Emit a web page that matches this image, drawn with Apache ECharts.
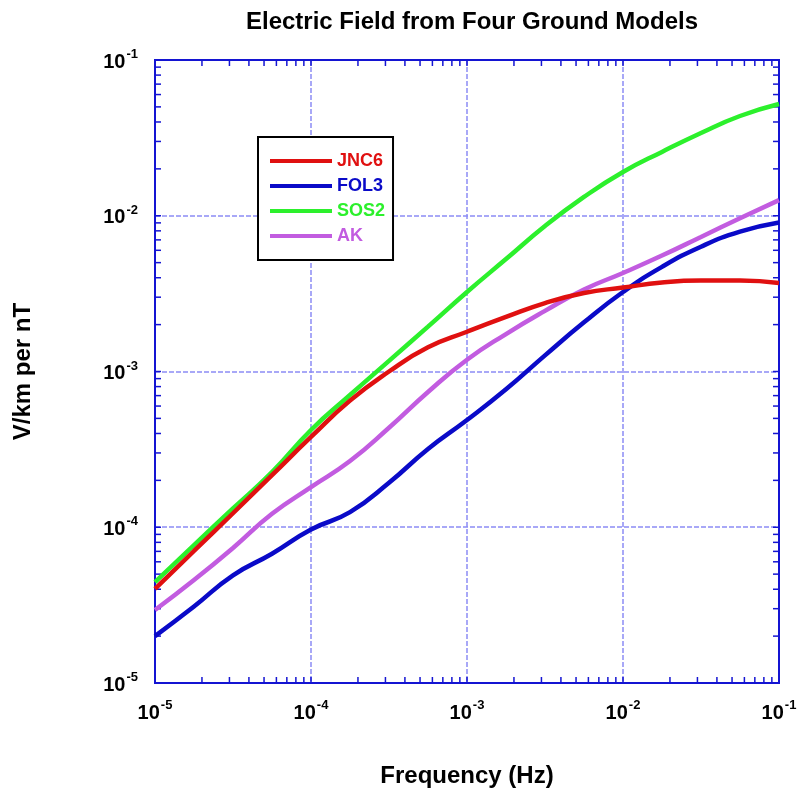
<!DOCTYPE html>
<html>
<head>
<meta charset="utf-8">
<title>Electric Field from Four Ground Models</title>
<script src="https://cdn.jsdelivr.net/npm/echarts@6/dist/echarts.min.js"></script>
<style>
  html, body { margin: 0; padding: 0; background: #fff; }
  #chart { width: 801px; height: 790px; }
</style>
</head>
<body>
<div id="chart"></div>
<script>
// Frequencies (Hz), quarter-decade steps
var freq = [1e-5, 1.778e-5, 3.162e-5, 5.623e-5, 1e-4, 1.778e-4, 3.162e-4, 5.623e-4,
            1e-3, 1.778e-3, 3.162e-3, 5.623e-3, 1e-2, 1.778e-2, 3.162e-2, 5.623e-2, 1e-1];

// Electric field (V/km per nT) for each ground model
var jnc6 = [4.02e-5, 7.04e-5, 1.23e-4, 2.16e-4, 3.80e-4, 6.50e-4, 1.0e-3, 1.43e-3,
            1.80e-3, 2.24e-3, 2.75e-3, 3.19e-3, 3.46e-3, 3.73e-3, 3.84e-3, 3.84e-3, 3.70e-3];
var fol3 = [2.0e-5, 3.10e-5, 4.91e-5, 6.76e-5, 9.67e-5, 1.25e-4, 1.93e-4, 3.18e-4,
            4.88e-4, 7.69e-4, 1.27e-3, 2.07e-3, 3.24e-3, 4.70e-3, 6.33e-3, 7.91e-3, 9.06e-3];
var sos2 = [4.45e-5, 7.69e-5, 1.32e-4, 2.26e-4, 4.21e-4, 7.06e-4, 1.17e-3, 1.94e-3,
            3.24e-3, 5.27e-3, 8.59e-3, 1.32e-2, 1.91e-2, 2.57e-2, 3.40e-2, 4.37e-2, 5.22e-2];
var ak   = [2.94e-5, 4.58e-5, 7.36e-5, 1.22e-4, 1.81e-4, 2.66e-4, 4.35e-4, 7.38e-4,
            1.19e-3, 1.74e-3, 2.45e-3, 3.36e-3, 4.29e-3, 5.55e-3, 7.31e-3, 9.63e-3, 1.26e-2];

var seriesNames = ['JNC6', 'FOL3', 'SOS2', 'AK'];
var seriesColors = ['#e01010', '#0a0ac8', '#2cf02c', '#c25ce0'];
var seriesValues = [jnc6, fol3, sos2, ak];

// Axis range (decades)
var axisMin = 1e-5, axisMax = 1e-1;

// Tick positions: 1..9 times each decade
var tickValues = [];
for (var e = -5; e < -1; e++) {
  for (var m = 1; m <= 9; m++) tickValues.push(m * Math.pow(10, e));
}
tickValues.push(axisMax);

var axisBlue = '#1414d2';
var gridBlue = 'rgb(140,140,245)';
var font = 'Liberation Sans, Arial, sans-serif';

function powLabel(v) {
  var p = Math.round(Math.log10(v));
  return '{b|10}{s|' + p + '}';
}
var labelRich = {
  b: { fontFamily: font, fontWeight: 'bold', fontSize: 20, color: '#000', lineHeight: 24, verticalAlign: 'bottom' },
  s: { fontFamily: font, fontWeight: 'bold', fontSize: 13, color: '#000', lineHeight: 24, verticalAlign: 'top', padding: [0, 0, 10, 1] }
};

var chart = echarts.init(document.getElementById('chart'), null, { renderer: 'canvas' });

var lineSeries = seriesNames.map(function (name, i) {
  return {
    name: name,
    type: 'line',
    data: freq.map(function (f, k) { return [f, seriesValues[i][k]]; }),
    showSymbol: false,
    smooth: 0.5,
    lineStyle: { color: seriesColors[i], width: 4.5 },
    itemStyle: { color: seriesColors[i] },
    z: i === 0 ? 6 : 5
  };
});

// Tick marks pointing inwards on all four sides of the frame
function tickRender(isX) {
  return function (params, api) {
    var v = api.value(isX ? 0 : 1);
    var len = 6;
    var st = { stroke: axisBlue, lineWidth: 1.5 };
    var a, b;
    if (isX) {
      a = api.coord([v, axisMin]);
      b = api.coord([v, axisMax]);
      return { type: 'group', children: [
        { type: 'line', shape: { x1: a[0], y1: a[1], x2: a[0], y2: a[1] - len }, style: st },
        { type: 'line', shape: { x1: b[0], y1: b[1], x2: b[0], y2: b[1] + len }, style: st }
      ]};
    }
    a = api.coord([axisMin, v]);
    b = api.coord([axisMax, v]);
    return { type: 'group', children: [
      { type: 'line', shape: { x1: a[0], y1: a[1], x2: a[0] + len, y2: a[1] }, style: st },
      { type: 'line', shape: { x1: b[0], y1: b[1], x2: b[0] - len, y2: b[1] }, style: st }
    ]};
  };
}

var splitStyle = {
  show: true,
  showMinLine: false,
  showMaxLine: false,
  lineStyle: { color: gridBlue, width: 1.5, type: [5, 2] }
};

// Solid frame edges on the top and right
function frameAxis(position) {
  return {
    type: 'log',
    logBase: 10,
    min: axisMin,
    max: axisMax,
    position: position,
    axisLine: { show: true, onZero: false, lineStyle: { color: axisBlue, width: 2 } },
    axisTick: { show: false },
    axisLabel: { show: false },
    splitLine: { show: false },
    z: 4
  };
}

var option = {
  animation: false,
  backgroundColor: '#fff',
  title: {
    text: 'Electric Field from Four Ground Models',
    left: 467,
    top: 5,
    textAlign: 'center',
    textStyle: { fontFamily: font, fontWeight: 'bold', fontSize: 24, color: '#000' }
  },
  legend: {
    orient: 'vertical',
    left: 258,
    top: 137,
    padding: [14, 8, 14, 12],
    borderColor: '#000',
    borderWidth: 2,
    backgroundColor: '#fff',
    itemWidth: 62,
    itemHeight: 4,
    itemGap: 5,
    itemTextGap: 7,
    icon: 'rect',
    textStyle: { fontFamily: font, fontWeight: 'bold', fontSize: 18, lineHeight: 20 },
    data: seriesNames.map(function (n, i) {
      return { name: n, textStyle: { color: seriesColors[i] } };
    })
  },
  grid: {
    left: 155, right: 22, top: 60, bottom: 107,
    outerBoundsMode: 'none',
    containLabel: false,
    show: true, borderColor: axisBlue, borderWidth: 2, backgroundColor: 'transparent'
  },
  xAxis: [{
    type: 'log',
    logBase: 10,
    min: axisMin,
    max: axisMax,
    position: 'bottom',
    name: 'Frequency (Hz)',
    nameLocation: 'middle',
    nameGap: 81,
    nameTextStyle: { fontFamily: font, fontWeight: 'bold', fontSize: 24, color: '#000' },
    axisLine: { onZero: false, lineStyle: { color: axisBlue, width: 2 } },
    axisTick: { show: false },
    minorTick: { show: false },
    splitLine: splitStyle,
    axisLabel: { margin: 16, formatter: powLabel, rich: labelRich }
  }, frameAxis('top')],
  yAxis: [{
    type: 'log',
    logBase: 10,
    min: axisMin,
    max: axisMax,
    position: 'left',
    name: 'V/km per nT',
    nameLocation: 'middle',
    nameGap: 120,
    nameRotate: 90,
    nameTextStyle: { fontFamily: font, fontWeight: 'bold', fontSize: 24, color: '#000' },
    axisLine: { onZero: false, lineStyle: { color: axisBlue, width: 2 } },
    axisTick: { show: false },
    minorTick: { show: false },
    splitLine: splitStyle,
    axisLabel: { margin: 17, formatter: powLabel, rich: labelRich }
  }, frameAxis('right')],
  series: lineSeries.concat([
    {
      type: 'custom',
      name: 'xticks',
      renderItem: tickRender(true),
      data: tickValues.map(function (v) { return [v, axisMin]; }),
      silent: true, clip: false, z: 3
    },
    {
      type: 'custom',
      name: 'yticks',
      renderItem: tickRender(false),
      data: tickValues.map(function (v) { return [axisMin, v]; }),
      silent: true, clip: false, z: 3
    }
  ])
};

chart.setOption(option);
</script>
</body>
</html>
